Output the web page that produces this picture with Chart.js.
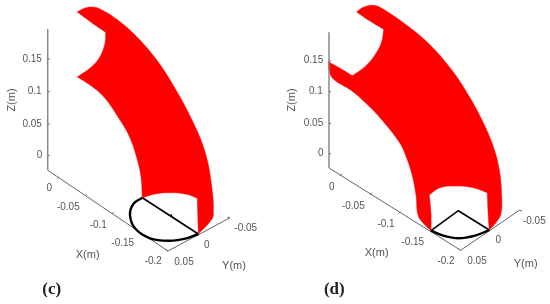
<!DOCTYPE html>
<html>
<head>
<meta charset="utf-8">
<title>Superficies (c) y (d)</title>
<script src="https://cdn.jsdelivr.net/npm/chart.js@4"></script>
<style>
    html, body { margin: 0; padding: 0; background: #fff; }
    canvas { display: block; }
</style>
</head>
<body>
<canvas id="grafico" width="550" height="304"></canvas>
<script>
// Contornos (unidades del plano de la imagen).
// Las esquinas van repetidas para que la curva no las redondee.
const rojoCX = [77.3, 77.3, 83.3, 91.7, 100, 116.7, 136.7, 156.7, 173, 192, 205, 211.5, 213.3, 210, 198.3, 198.3, 197.3, 197.3, 186.7, 170, 155, 142.3, 142.3, 141, 136.5, 129.5, 120, 104, 90, 77.3, 77.3, 91.7, 100, 105, 105.7, 105.7, 91.7, 77.3];
const rojoCY = [12, 12, 8.7, 7, 9, 19.3, 36.7, 60, 85, 120, 152, 185, 215, 221.7, 234, 234, 198.3, 198.3, 194.3, 192.7, 194, 197.7, 197.7, 176.7, 156.7, 136.7, 120, 97, 85, 77, 77, 66.7, 56.7, 43.3, 32.3, 32.3, 22.7, 12];
const rojoDX = [356.7, 356.7, 363.3, 373.3, 381.7, 405, 428.3, 451.7, 468.3, 482, 493.3, 499.3, 501.7, 501, 496.7, 489.3, 489.3, 488.3, 487.3, 487.3, 473.3, 455, 440, 429.3, 429.3, 431, 431, 431, 423.3, 418, 416, 411.7, 405.5, 400, 382, 366, 351.7, 333.3, 329, 328.3, 328.3, 340, 352.3, 352.3, 365, 375, 381.7, 383.7, 383.7, 368.3, 356.7];
const rojoDY = [12, 12, 7.3, 5.3, 8.3, 24, 43.3, 70, 95, 120, 146.7, 170, 196.7, 213.3, 221.7, 230, 230, 216.7, 192.7, 192.7, 187.7, 186, 187.7, 194.7, 194.7, 213.3, 230.7, 230.7, 223.3, 215, 195, 173.3, 155, 143.3, 120, 103.3, 90.7, 79, 70, 61.7, 61.7, 68.3, 75.7, 75.7, 66.7, 55, 41.7, 29.3, 29.3, 20, 12];

// Trazos negros sobre la base
const arcoCX = [142.3, 133.3, 130, 135, 150, 170, 186.7, 198.3];
const arcoCY = [197.7, 204, 215, 228.3, 238.3, 240.7, 238.3, 234];
const cuerdaCX = [142.3, 198.3];
const cuerdaCY = [197.7, 234];
const arcoDX = [431, 443.3, 458.3, 475, 489.3];
const arcoDY = [230.7, 235.7, 238.3, 235.7, 230];
const cunaDX = [431, 458.3, 489.3];
const cunaDY = [230.7, 210.7, 230];

// Ejes de cada panel
const ejeZCX = [47.7, 47.7];
const ejeZCY = [29, 170.3];
const ejesCX = [47.7, 168, 230];
const ejesCY = [170.3, 251, 217.7];
const ejeZDX = [329, 329];
const ejeZDY = [32.3, 168];
const ejesDX = [329, 460.7, 519.3];
const ejesDY = [168, 250.3, 210.3];

// Marcas de los ejes
const marcasZCY = [59, 91.7, 124, 155.5];
const marcasXCX = [57.3, 85, 111.7, 138];
const marcasXCY = [178.7, 196, 214, 233];
const marcasZDY = [61, 91.7, 123.3, 153.7];
const marcasXDX = [340, 370, 398.3, 430];
const marcasXDY = [176, 194.7, 213.7, 232];

// Etiquetas
const ticksZ = ['0', '0.05', '0.1', '0.15'];
const ticksX = ['0', '-0.05', '-0.1', '-0.15', '-0.2'];
const ticksY = ['0.05', '0', '-0.05'];
const posZCY = [155.5, 124, 91.7, 59];
const posZDY = [153.7, 123, 91.7, 60];
const posXCX = [49.3, 68.3, 98.3, 122.7, 153.3];
const posXCY = [188.7, 207, 225, 243, 261.3];
const posXDX = [331.7, 353.3, 386, 412.7, 446];
const posXDY = [187.7, 206, 224.7, 242.7, 261.3];
const posYCX = [184, 206.7, 245.7];
const posYCY = [262, 245, 228.7];
const posYDX = [477, 498.3, 534.3];
const posYDY = [261.3, 240.7, 221.3];

const colorEje = '#666';
const colorTexto = '#555';
const fuente = "'Liberation Sans', Arial, sans-serif";

function puntos(xs, ys) {
    return xs.map((x, i) => ({ x: x, y: ys[i] }));
}

function trazo(xs, ys, color, ancho, tension) {
    return {
        data: puntos(xs, ys),
        showLine: true,
        borderColor: color,
        borderWidth: ancho,
        pointRadius: 0,
        tension: tension || 0,
        fill: false
    };
}

function relleno(xs, ys) {
    return {
        data: puntos(xs, ys),
        showLine: true,
        borderColor: '#ff0000',
        borderWidth: 0.5,
        backgroundColor: '#ff0000',
        pointRadius: 0,
        tension: 0.4,
        fill: 'shape'
    };
}

// Cada marca es un trazo corto; dx, dy es su dirección
function marcas(xs, ys, dx, dy) {
    return xs.map((x, i) => trazo([x, x + dx], [ys[i], ys[i] + dy], colorEje, 1));
}

// Los textos se colocan con las escalas del propio gráfico
const textos = {
    id: 'textos',
    afterDraw(chart) {
        const { ctx, scales: { x, y } } = chart;
        const escribir = (texto, px, py, font, color, giro) => {
            ctx.save();
            ctx.translate(x.getPixelForValue(px), y.getPixelForValue(py));
            if (giro) ctx.rotate(giro);
            ctx.font = font;
            ctx.fillStyle = color;
            ctx.textAlign = 'center';
            ctx.textBaseline = 'middle';
            ctx.fillText(texto, 0, 0);
            ctx.restore();
        };
        const serie = (etiquetas, xs, ys) => etiquetas.forEach((t, i) => {
            escribir(t, xs[i], ys[i], '10px ' + fuente, colorTexto);
        });

        serie(ticksZ, ticksZ.map(t => 42 - t.length * 2.45), posZCY);
        serie(ticksZ, ticksZ.map(t => 323.3 - t.length * 2.45), posZDY);
        serie(ticksX, posXCX, posXCY);
        serie(ticksX, posXDX, posXDY);
        serie(ticksY, posYCX, posYCY);
        serie(ticksY, posYDX, posYDY);

        const fuenteEje = '11px ' + fuente;
        escribir('Z(m)', 12, 100, fuenteEje, colorTexto, -Math.PI / 2);
        escribir('Z(m)', 292.3, 100, fuenteEje, colorTexto, -Math.PI / 2);
        escribir('X(m)', 87.7, 254.7, fuenteEje, colorTexto);
        escribir('X(m)', 376.7, 253.3, fuenteEje, colorTexto);
        escribir('Y(m)', 234, 266.3, fuenteEje, colorTexto);
        escribir('Y(m)', 525.7, 263.7, fuenteEje, colorTexto);

        const fuentePanel = "bold 17px 'Liberation Serif', serif";
        escribir('(c)', 51.7, 290, fuentePanel, '#222');
        escribir('(d)', 334.3, 289.7, fuentePanel, '#222');
    }
};

new Chart(document.getElementById('grafico').getContext('2d'), {
    type: 'scatter',
    data: {
        datasets: [
            // El primero queda encima
            trazo(arcoCX, arcoCY, '#000', 2.4, 0.4),
            trazo(cuerdaCX, cuerdaCY, '#000', 1.7),
            trazo(arcoDX, arcoDY, '#000', 2.4, 0.4),
            trazo(cunaDX, cunaDY, '#000', 1.6),
            trazo(ejeZCX, ejeZCY, '#888', 1.5),
            trazo(ejeZDX, ejeZDY, '#888', 1.5),
            trazo(ejesCX, ejesCY, colorEje, 1),
            trazo(ejesDX, ejesDY, colorEje, 1),
            ...marcas(marcasXCX, marcasXCY, 2, -2),
            ...marcas(marcasXDX, marcasXDY, 2, -2),
            ...marcas(marcasZCY.map(() => 47.7), marcasZCY, 2, 0),
            ...marcas(marcasZDY.map(() => 329), marcasZDY, 2, 0),
            trazo([230, 227.5], [217.7, 217], colorEje, 1),
            trazo([519.3, 522], [210.3, 211], colorEje, 1),
            trazo([168, 165.5], [251, 249.5], colorEje, 1),
            trazo([460.7, 458.2], [250.3, 248.8], colorEje, 1),
            trazo([171, 172.5], [214, 217], '#000', 1),
            relleno(rojoCX, rojoCY),
            relleno(rojoDX, rojoDY)
        ]
    },
    options: {
        responsive: false,
        animation: false,
        layout: { padding: 0 },
        plugins: { legend: { display: false }, tooltip: { enabled: false } },
        scales: {
            x: { type: 'linear', display: false, min: 0, max: 550 },
            y: { type: 'linear', display: false, min: 0, max: 304, reverse: true }
        }
    },
    plugins: [textos]
});
</script>
</body>
</html>
